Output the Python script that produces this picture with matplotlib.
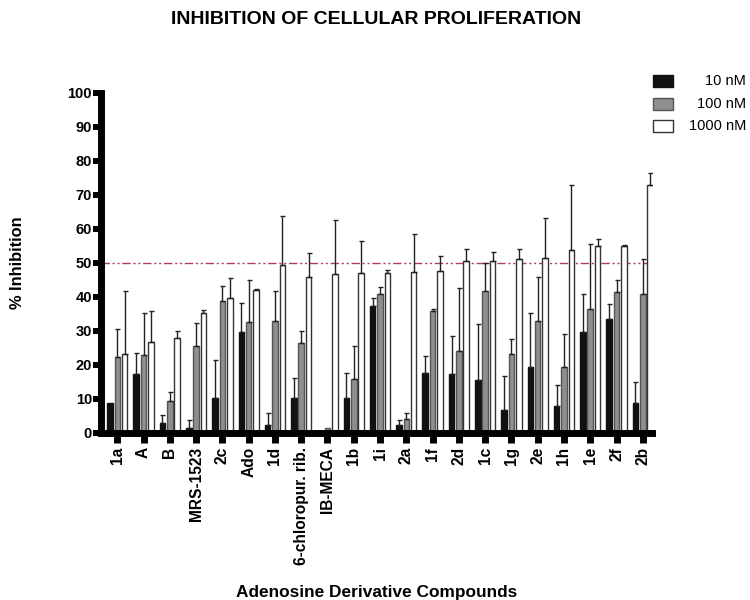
import matplotlib
matplotlib.use("Agg")
import matplotlib.pyplot as plt
import numpy as np
from matplotlib.patches import Rectangle

plt.rcParams['font.family'] = ['Liberation Sans', 'DejaVu Sans']

compounds = ["1a", "A", "B", "MRS-1523", "2c", "Ado", "1d", "6-chloropur. rib.",
             "IB-MECA", "1b", "1i", "2a", "1f", "2d", "1c", "1g", "2e", "1h",
             "1e", "2f", "2b"]
series_labels = ["10 nM", "100 nM", "1000 nM"]

nm10 = [8.8, 17.3, 2.9, 1.6, 10.4, 29.7, 2.3, 10.4, 0.0, 10.4, 37.5, 2.3, 17.6, 17.3,
        15.7, 6.8, 19.3, 7.8, 29.8, 33.4, 8.9]
nm10_err = [0.0, 6.3, 2.5, 2.3, 11.0, 8.4, 3.6, 5.8, 0.0, 7.3, 2.3, 1.4, 5.1, 11.3,
            16.5, 9.9, 15.9, 6.2, 11.0, 4.4, 6.1]
nm100 = [22.4, 22.8, 9.4, 25.7, 38.7, 32.6, 33.0, 26.4, 1.5, 16.0, 40.8, 4.0, 36.0,
         24.1, 41.8, 23.1, 33.0, 19.5, 36.6, 41.5, 40.8]
nm100_err = [8.1, 12.4, 2.8, 6.8, 4.6, 12.4, 8.8, 3.7, 0.0, 9.7, 2.0, 1.8, 0.5, 18.6,
             8.1, 4.6, 12.9, 9.5, 18.9, 3.4, 10.3]
nm1000 = [23.3, 26.7, 28.0, 35.3, 39.8, 42.2, 49.3, 46.0, 46.7, 47.1, 47.1, 47.4, 47.7,
          50.6, 50.6, 51.2, 51.6, 53.9, 54.9, 54.9, 72.8]
nm1000_err = [18.5, 9.3, 2.0, 0.9, 5.8, 0.3, 14.6, 6.9, 15.9, 9.4, 0.8, 11.0, 4.5,
              3.6, 2.5, 3.0, 11.6, 18.9, 2.1, 0.3, 3.6]

yticks = [0, 10, 20, 30, 40, 50, 60, 70, 80, 90, 100]
threshold = 50

fig = plt.figure(figsize=(7.5, 6), dpi=100)
ax = fig.add_axes([101/750, 1 - 433/600, 551/750, 340/600])

x = np.arange(len(compounds))
w = 0.21
off = 0.28
styles = [
    dict(color="#111111", edgecolor="#111111"),
    dict(color="#8f8f8f", edgecolor="#555555"),
    dict(color="#ffffff", edgecolor="#333333"),
]
data = [(nm10, nm10_err), (nm100, nm100_err), (nm1000, nm1000_err)]
for i, ((vals, errs), st) in enumerate(zip(data, styles)):
    pos = x + (i - 1) * off
    ax.bar(pos, vals, width=w, linewidth=1.0, zorder=2, **st)
    vals_a = np.array(vals)
    errs_a = np.array(errs)
    mask = errs_a > 0
    ax.errorbar(pos[mask], vals_a[mask], yerr=[np.zeros(mask.sum()), errs_a[mask]],
                fmt="none", ecolor="#222222", elinewidth=1.0, capsize=1.8,
                capthick=1.0, zorder=3)

ax.axhline(threshold, color="#b03a6e", linewidth=1.0, dashes=(6, 2, 1.5, 2, 1.5, 2),
           zorder=1)

ax.set_xlim(-0.62, 20.35)
ax.set_ylim(0, 100)
ax.set_yticks(yticks)
ax.set_yticklabels([str(t) for t in yticks], fontsize=10.5, fontweight="bold")
ax.set_xticks(x)
ax.set_xticklabels(compounds, rotation=90, fontsize=11.2, fontweight="bold")
ax.tick_params(axis="y", length=6, width=4.3, direction="out", pad=0.5)
ax.tick_params(axis="x", length=7, width=5, direction="out", pad=3)
for s in ["top", "right"]:
    ax.spines[s].set_visible(False)
for s in ["left", "bottom"]:
    ax.spines[s].set_linewidth(5)
ax.spines["left"].set_zorder(4)
ax.spines["bottom"].set_zorder(4)

fig.text(18/750, 1 - 263/600, "% Inhibition", rotation=90, ha="center", va="center",
         fontsize=11.8, fontweight="bold")
fig.text(376/750, 1 - 19/600, "INHIBITION OF CELLULAR PROLIFERATION", ha="center",
         va="center", fontsize=14, fontweight="bold")
fig.text(377/750, 1 - 592/600, "Adenosine Derivative Compounds", ha="center",
         va="center", fontsize=12.4, fontweight="bold")

# legend
leg_y = [81, 104, 126]
for lab, st, yy in zip(series_labels, styles, leg_y):
    fig.patches.append(Rectangle((653/750, 1 - (yy + 6)/600), 20/750, 12/600,
                                 transform=fig.transFigure, facecolor=st["color"],
                                 edgecolor=st["edgecolor"], linewidth=1.0))
    fig.text(746/750, 1 - yy/600, lab, ha="right", va="center", fontsize=10.5)

fig.savefig("out.png", dpi=100)
